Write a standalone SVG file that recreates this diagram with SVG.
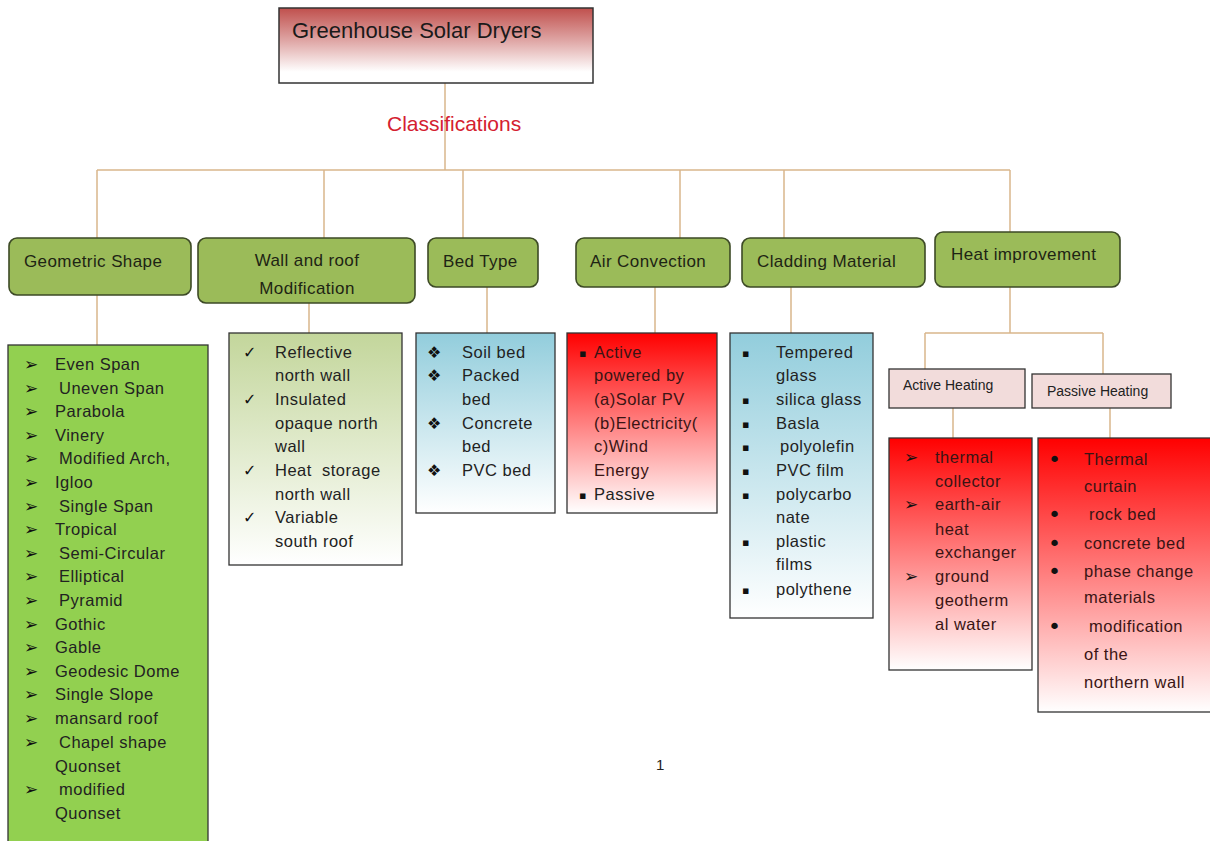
<svg xmlns="http://www.w3.org/2000/svg" width="1210" height="841" viewBox="0 0 1210 841">
<style>
.conn{stroke:#d9b68c;stroke-width:1.5;fill:none}
.hdr{fill:#9bbb59;stroke:#3d4a26;stroke-width:1.6}
.ht{font-family:"Liberation Sans",Arial,sans-serif;font-size:17px;fill:#1e2414;letter-spacing:0.4px}
.lt{font-family:"Liberation Sans",Arial,sans-serif;font-size:16.5px;fill:#222;letter-spacing:0.5px}
.lr{font-family:"Liberation Sans",Arial,sans-serif;font-size:16.5px;fill:#3a1414;letter-spacing:0.5px}
.bul{font-family:"DejaVu Sans",sans-serif;font-size:16px;fill:#111}
.arr{font-family:"DejaVu Sans",sans-serif;font-size:17px;fill:#111;font-weight:bold}
.sq{font-family:"DejaVu Sans",sans-serif;font-size:11px;fill:#111}
.dot{font-family:"DejaVu Sans",sans-serif;font-size:22px;fill:#111}
.box{stroke:#333;stroke-width:1.3}
.sub{fill:#f2dcdb;stroke:#333;stroke-width:1.3}
.st{font-family:"Liberation Sans",Arial,sans-serif;font-size:14px;fill:#222}
</style>
<defs>
<linearGradient id="gTitle" x1="0" y1="0" x2="0" y2="1"><stop offset="0" stop-color="#c0504d"/><stop offset="0.45" stop-color="#e0a9a8"/><stop offset="0.85" stop-color="#ffffff"/></linearGradient>
<linearGradient id="gWall" x1="0" y1="0" x2="0" y2="1"><stop offset="0" stop-color="#c3d69b"/><stop offset="1" stop-color="#ffffff"/></linearGradient>
<linearGradient id="gBlue" x1="0" y1="0" x2="0" y2="1"><stop offset="0" stop-color="#92cddc"/><stop offset="1" stop-color="#ffffff"/></linearGradient>
<linearGradient id="gRed" x1="0" y1="0" x2="0" y2="1"><stop offset="0" stop-color="#ff0000"/><stop offset="1" stop-color="#ffffff"/></linearGradient>
</defs>
<rect width="1210" height="841" fill="#ffffff"/>

<g id="connectors">
<path class="conn" d="M445 83V170M97 170H1010M97 170V238M324 170V238M463 170V238M680 170V238M784 170V238M1010 170V232"/>
<path class="conn" d="M97 295V345M309 303V333M487 287V333M655 287V333M791 287V333M1010 287V333M925 333H1103M925 333V369M1103 333V374M953 408V438M1110 408V438"/>
</g>

<g id="title">
<rect x="279" y="8" width="314" height="75" fill="url(#gTitle)" stroke="#333" stroke-width="1.5"/>
<text x="292" y="38" font-family="'Liberation Sans',Arial,sans-serif" font-size="22" fill="#1a1a1a">Greenhouse Solar Dryers</text>
</g>

<g id="classifications">
<text x="387" y="131" font-family="'Liberation Sans',Arial,sans-serif" font-size="21" fill="#d42030">Classifications</text>
</g>

<g id="geometric-shape">
<rect class="hdr" x="9" y="238" width="182" height="57" rx="8"/>
<text class="ht" x="24" y="267">Geometric Shape</text>
</g>
<g id="wall-roof">
<rect class="hdr" x="198" y="238" width="217" height="65" rx="8"/>
<text class="ht" x="307" y="266" text-anchor="middle">Wall and roof</text>
<text class="ht" x="307" y="294" text-anchor="middle">Modification</text>
</g>
<g id="bed-type">
<rect class="hdr" x="428" y="238" width="110" height="49" rx="8"/>
<text class="ht" x="443" y="267">Bed Type</text>
</g>
<g id="air-convection">
<rect class="hdr" x="576" y="238" width="154" height="49" rx="8"/>
<text class="ht" x="590" y="267">Air Convection</text>
</g>
<g id="cladding-material">
<rect class="hdr" x="742" y="238" width="183" height="49" rx="8"/>
<text class="ht" x="757" y="267">Cladding Material</text>
</g>
<g id="heat-improvement">
<rect class="hdr" x="935" y="232" width="185" height="55" rx="8"/>
<text class="ht" x="951" y="260">Heat improvement</text>
</g>

<g id="geometric-list">
<rect class="box" x="8" y="345" width="200" height="500" fill="#92d050"/>
<g class="arr">
<text x="24" y="370">➢</text><text x="24" y="394">➢</text><text x="24" y="417">➢</text><text x="24" y="441">➢</text><text x="24" y="464">➢</text><text x="24" y="488">➢</text><text x="24" y="512">➢</text><text x="24" y="535">➢</text><text x="24" y="559">➢</text><text x="24" y="582">➢</text><text x="24" y="606">➢</text><text x="24" y="630">➢</text><text x="24" y="653">➢</text><text x="24" y="677">➢</text><text x="24" y="700">➢</text><text x="24" y="724">➢</text><text x="24" y="748">➢</text><text x="24" y="795">➢</text>
</g>
<g class="lt">
<text x="55" y="370">Even Span</text>
<text x="59" y="394">Uneven Span</text>
<text x="55" y="417">Parabola</text>
<text x="55" y="441">Vinery</text>
<text x="59" y="464">Modified Arch,</text>
<text x="55" y="488">Igloo</text>
<text x="59" y="512">Single Span</text>
<text x="55" y="535">Tropical</text>
<text x="59" y="559">Semi-Circular</text>
<text x="59" y="582">Elliptical</text>
<text x="59" y="606">Pyramid</text>
<text x="55" y="630">Gothic</text>
<text x="55" y="653">Gable</text>
<text x="55" y="677">Geodesic Dome</text>
<text x="55" y="700">Single Slope</text>
<text x="55" y="724">mansard roof</text>
<text x="59" y="748">Chapel shape</text>
<text x="55" y="772">Quonset</text>
<text x="59" y="795">modified</text>
<text x="55" y="819">Quonset</text>
</g>
</g>

<g id="wall-list">
<rect class="box" x="229" y="333" width="173" height="232" fill="url(#gWall)"/>
<g class="bul">
<text x="243" y="358">✓</text><text x="243" y="405">✓</text><text x="243" y="476">✓</text><text x="243" y="523">✓</text>
</g>
<g class="lt">
<text x="275" y="358">Reflective</text>
<text x="275" y="381">north wall</text>
<text x="275" y="405">Insulated</text>
<text x="275" y="429">opaque north</text>
<text x="275" y="452">wall</text>
<text x="275" y="476" xml:space="preserve">Heat  storage</text>
<text x="275" y="500">north wall</text>
<text x="275" y="523">Variable</text>
<text x="275" y="547">south roof</text>
</g>
</g>

<g id="bed-list">
<rect class="box" x="416" y="333" width="139" height="180" fill="url(#gBlue)"/>
<g class="bul" font-size="15px">
<text x="427" y="358">❖</text><text x="427" y="381">❖</text><text x="427" y="429">❖</text><text x="427" y="476">❖</text>
</g>
<g class="lt">
<text x="462" y="358">Soil bed</text>
<text x="462" y="381">Packed</text>
<text x="462" y="405">bed</text>
<text x="462" y="429">Concrete</text>
<text x="462" y="452">bed</text>
<text x="462" y="476">PVC bed</text>
</g>
</g>

<g id="air-list">
<rect class="box" x="567" y="333" width="150" height="180" fill="url(#gRed)"/>
<g class="sq">
<text x="579" y="357">▪</text><text x="579" y="499">▪</text>
</g>
<g class="lr">
<text x="594" y="358">Active</text>
<text x="594" y="381">powered by</text>
<text x="594" y="405">(a)Solar PV</text>
<text x="594" y="429">(b)Electricity(</text>
<text x="594" y="452">c)Wind</text>
<text x="594" y="476">Energy</text>
<text x="594" y="500" fill="#222">Passive</text>
</g>
</g>

<g id="cladding-list">
<rect class="box" x="730" y="333" width="143" height="285" fill="url(#gBlue)"/>
<g class="sq">
<text x="742" y="357">▪</text><text x="742" y="404">▪</text><text x="742" y="428">▪</text><text x="742" y="451">▪</text><text x="742" y="475">▪</text><text x="742" y="499">▪</text><text x="742" y="546">▪</text><text x="742" y="594">▪</text>
</g>
<g class="lt">
<text x="776" y="358">Tempered</text>
<text x="776" y="381">glass</text>
<text x="776" y="405">silica glass</text>
<text x="776" y="429">Basla</text>
<text x="780" y="452">polyolefin</text>
<text x="776" y="476">PVC film</text>
<text x="776" y="500">polycarbo</text>
<text x="776" y="523">nate</text>
<text x="776" y="547">plastic</text>
<text x="776" y="570">films</text>
<text x="776" y="595">polythene</text>
</g>
</g>

<g id="active-heating">
<rect class="sub" x="889" y="369" width="136" height="39"/>
<text class="st" x="903" y="390">Active Heating</text>
</g>
<g id="passive-heating">
<rect class="sub" x="1032" y="374" width="139" height="34"/>
<text class="st" x="1047" y="396">Passive Heating</text>
</g>

<g id="active-list">
<rect class="box" x="889" y="438" width="143" height="232" fill="url(#gRed)"/>
<g class="arr">
<text x="904" y="463">➢</text><text x="904" y="510">➢</text><text x="904" y="582">➢</text>
</g>
<g class="lr">
<text x="935" y="463">thermal</text>
<text x="935" y="487">collector</text>
<text x="935" y="510">earth-air</text>
<text x="935" y="535">heat</text>
<text x="935" y="558">exchanger</text>
<text x="935" y="582">ground</text>
<text x="935" y="606">geotherm</text>
<text x="935" y="630">al water</text>
</g>
</g>

<g id="passive-list">
<rect class="box" x="1038" y="438" width="180" height="274" fill="url(#gRed)"/>
<g class="dot">
<text x="1048" y="467">•</text><text x="1048" y="522">•</text><text x="1048" y="551">•</text><text x="1048" y="579">•</text><text x="1048" y="634">•</text>
</g>
<g class="lr">
<text x="1084" y="465">Thermal</text>
<text x="1084" y="492">curtain</text>
<text x="1089" y="520">rock bed</text>
<text x="1084" y="549">concrete bed</text>
<text x="1084" y="577">phase change</text>
<text x="1084" y="603">materials</text>
<text x="1089" y="632">modification</text>
<text x="1084" y="660">of the</text>
<text x="1084" y="688">northern wall</text>
</g>
</g>

<g id="page-number">
<text x="656" y="770" font-family="'Liberation Sans',Arial,sans-serif" font-size="15" fill="#222">1</text>
</g>
</svg>
